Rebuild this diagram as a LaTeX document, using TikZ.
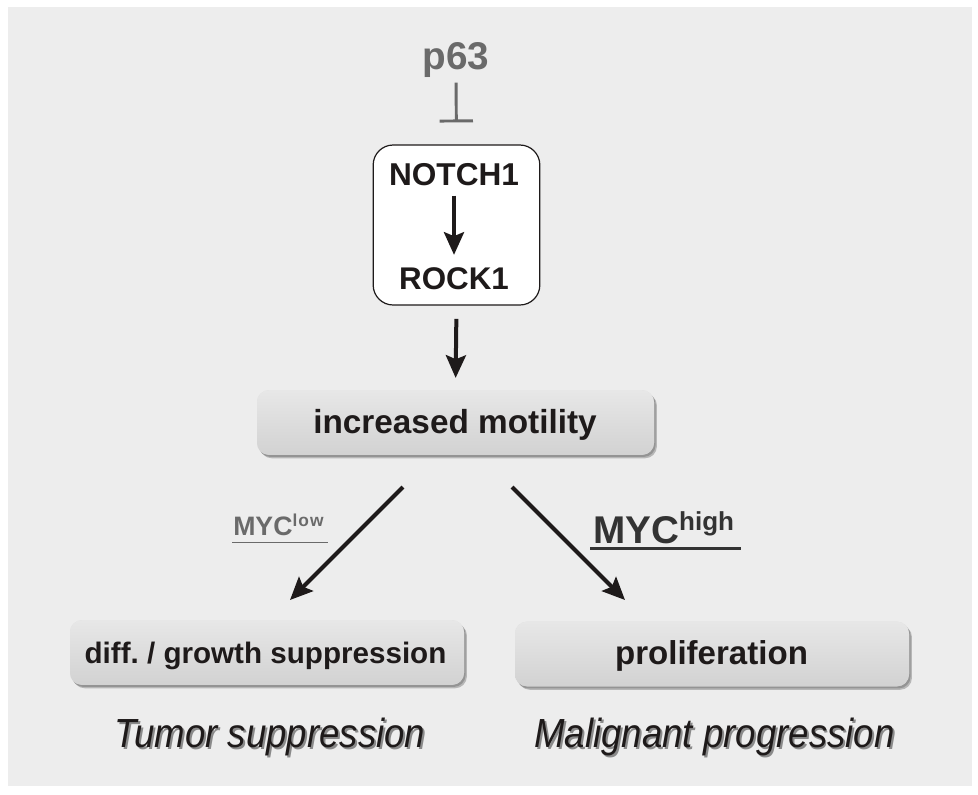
\documentclass[tikz,border=0pt]{standalone}
\usepackage{fontspec}
\setmainfont{Liberation Sans}
\usetikzlibrary{arrows.meta}
\definecolor{panel}{HTML}{EDEDED}
\definecolor{boxfill}{HTML}{DDDDDD}
\definecolor{boxshadow}{HTML}{8C8C8C}
\definecolor{ink}{HTML}{1E1A1A}
\definecolor{pgrey}{HTML}{6A6A6A}
\definecolor{lowgrey}{HTML}{6A6A6A}
\definecolor{highgrey}{HTML}{333333}
\definecolor{tshadow}{HTML}{8A8A8A}
\newcommand{\shadowtext}[1]{\makebox[0pt][l]{\hspace{1.6pt}\raisebox{-1.9pt}{\textcolor{tshadow}{#1}}}#1}
\tikzset{
  greybox/.style={draw=none, rounded corners=9pt, minimum width=#1*0.75pt, minimum height=48.5pt, inner sep=0pt,
    fill=boxfill, top color=boxfill!70!white, bottom color=boxfill!95!black},
  shadowbox/.style={draw=none, rounded corners=9pt, minimum width=#1*0.75pt, minimum height=48.5pt, inner sep=0pt, fill=boxshadow},
  label/.style={inner sep=0pt, text=ink, font=\bfseries},
  arr/.style={draw=ink, line width=3pt, -{Stealth[length=17pt, width=15pt, inset=3pt]}},
  inh/.style={draw=pgrey, line width=2.2pt, -{Bar[width=25pt, line width=2.2pt]}},
  outcome/.style={inner sep=0pt, text=ink, font=\itshape\fontsize{30.5}{34}\selectfont, xscale=0.9},
}
\begin{document}
\begin{tikzpicture}[x=0.75pt, y=-0.75pt]
  \useasboundingbox (0,0) rectangle (978,794);
  \fill[white] (0,0) rectangle (978,794);
  \fill[panel] (8,7) rectangle (972,786);

  % p63 inhibition
  \node[inner sep=0pt, text=pgrey, font=\bfseries\fontsize{29}{34}\selectfont, anchor=base] (p63) at (456,69) {p63};

  % NOTCH1 / ROCK1 box
  \node[draw=ink, line width=0.9pt, fill=white, rounded corners=15pt, minimum width=125pt, minimum height=120pt, inner sep=0pt] (nrbox) at (456.5,225) {};
  \node[label, font=\bfseries\fontsize{23.7}{28}\selectfont, anchor=base] (notch) at (454,185) {NOTCH1};
  \node[label, font=\bfseries\fontsize{23.5}{28}\selectfont, anchor=base] (rock) at (454,289) {ROCK1};
  \draw[inh, shorten <=4pt, shorten >=16.5pt] (p63.south) -- (nrbox.north);
  \draw[arr, shorten <=7.5pt, shorten >=9pt] (notch.south) -- (rock.north);

  % increased motility
  \node[shadowbox=397, xshift=2.2pt, yshift=-2.6pt, opacity=0.55] at (455.5,422.5) {};
  \node[shadowbox=397, xshift=1.2pt, yshift=-1.6pt, opacity=0.8] at (455.5,422.5) {};
  \node[greybox=397] (motility) at (455.5,422.5) {};
  \node[label, font=\bfseries\fontsize{25}{30}\selectfont, anchor=base] (motxt) at (455,433) {increased motility};
  \draw[arr, shorten <=10pt, shorten >=9pt] (nrbox.south) -- (motility.north);

  % diff / growth suppression
  \node[shadowbox=394, xshift=2.2pt, yshift=-2.6pt, opacity=0.55] at (267,652.5) {};
  \node[shadowbox=394, xshift=1.2pt, yshift=-1.6pt, opacity=0.8] at (267,652.5) {};
  \node[greybox=394] (diff) at (267,652.5) {};
  \node[label, font=\bfseries\fontsize{22.2}{26}\selectfont, anchor=base] (difftxt) at (265.5,663) {diff.~/ growth suppression};

  % proliferation
  \node[shadowbox=394, xshift=2.2pt, yshift=-2.6pt, opacity=0.55] at (712,654) {};
  \node[shadowbox=394, xshift=1.2pt, yshift=-1.6pt, opacity=0.8] at (712,654) {};
  \node[greybox=394] (prolif) at (712,654) {};
  \node[label, font=\bfseries\fontsize{24.8}{30}\selectfont, anchor=base] (proltxt) at (711.5,664) {proliferation};

  % branch arrows
  \coordinate (lstart) at (403,487);
  \coordinate (lend) at (290,600);
  \coordinate (rstart) at (512,487);
  \coordinate (rend) at (625,600);
  \draw[arr] (lstart) -- (lend);
  \draw[arr] (rstart) -- (rend);

  % MYC labels
  \node[inner sep=0pt, anchor=base west, text=lowgrey, font=\bfseries\fontsize{20}{24}\selectfont] (myclow) at (233,535)
    {MYC\raisebox{6.5pt}{\addfontfeatures{LetterSpace=6}\fontsize{13}{16}\selectfont low}};
  \coordinate (lowul1) at (232,542.5);
  \coordinate (lowul2) at (328,542.5);
  \draw[lowgrey, line width=1.3pt] (lowul1) -- (lowul2);

  \node[inner sep=0pt, anchor=base west, text=highgrey, font=\bfseries\fontsize{29}{34}\selectfont] (mychigh) at (593,543)
    {MYC\raisebox{9.5pt}{\fontsize{19.5}{24}\selectfont high}};
  \coordinate (highul1) at (590,548.5);
  \coordinate (highul2) at (741,548.5);
  \draw[highgrey, line width=1.6pt] (highul1) -- (highul2);

  % outcomes with shadow
  \node[outcome, anchor=base] (tumor) at (270,747) {\shadowtext{Tumor suppression}};
  \node[outcome, anchor=base] (malig) at (714.5,747) {\shadowtext{Malignant progression}};
\end{tikzpicture}
\end{document}
